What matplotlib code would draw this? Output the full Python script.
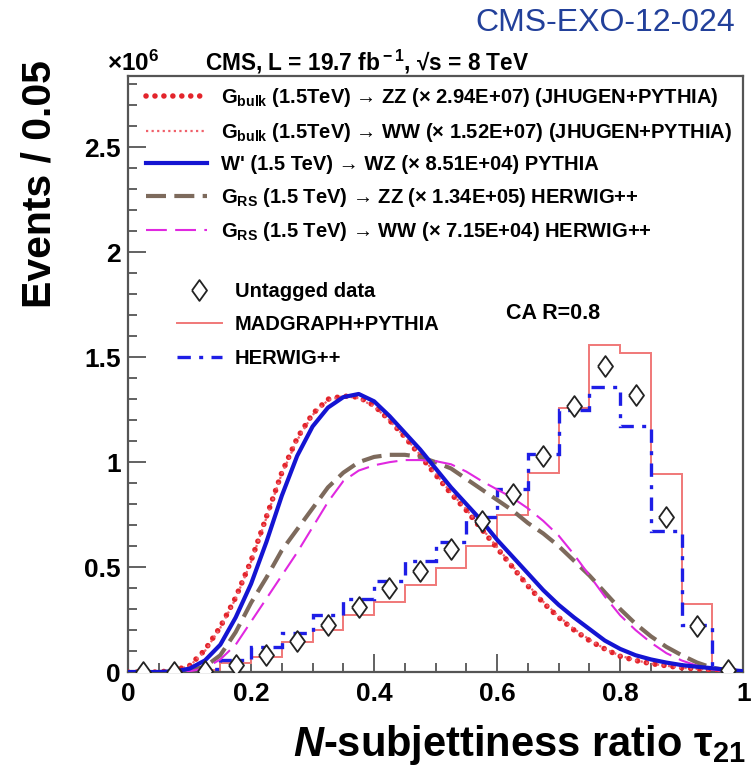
import numpy as np
import matplotlib
matplotlib.use('Agg')
import matplotlib.pyplot as plt
from matplotlib.lines import Line2D
from matplotlib.ticker import MultipleLocator, FuncFormatter

# Fonts: Helvetica-like bold, like ROOT plots
plt.rcParams['font.family'] = ['Liberation Sans', 'DejaVu Sans']
plt.rcParams['font.weight'] = 'bold'
plt.rcParams['mathtext.fontset'] = 'custom'
plt.rcParams['mathtext.rm'] = 'Liberation Sans:bold'
plt.rcParams['mathtext.bf'] = 'Liberation Sans:bold'
plt.rcParams['mathtext.it'] = 'Liberation Sans:bold:italic'

# Histogram bins (tau21, width 0.05)
bin_edges = np.round(np.arange(0, 1.0001, 0.05), 3)
bin_centers = bin_edges[:-1] + 0.025

# Values in units of 10^6
madgraph = [0, 0, 0.01, 0.043, 0.072, 0.143, 0.20, 0.27, 0.335, 0.415,
            0.495, 0.60, 0.75, 0.95, 1.26, 1.56, 1.52, 0.945, 0.324, 0.0]
herwig = [0, 0, 0.015, 0.057, 0.12, 0.187, 0.27, 0.35, 0.435, 0.53,
          0.62, 0.74, 0.873, 1.04, 1.25, 1.36, 1.17, 0.67, 0.224, 0.0]
data = [0.0, 0.0, 0.005, 0.033, 0.08, 0.148, 0.224, 0.31, 0.40, 0.48,
        0.585, 0.72, 0.85, 1.03, 1.27, 1.46, 1.32, 0.74, 0.22, 0.01]

# Signal shapes sampled every 0.025 in tau21
tau = np.round(np.arange(0, 1.0001, 0.025), 3)
gbulk_zz = [0, 0, 0, 0.008, 0.03, 0.105, 0.215, 0.355, 0.53, 0.74,
            0.95, 1.115, 1.23, 1.30, 1.315, 1.31, 1.27, 1.20, 1.12, 1.03,
            0.94, 0.85, 0.77, 0.68, 0.59, 0.50, 0.41, 0.33, 0.26, 0.20,
            0.15, 0.11, 0.075, 0.055, 0.04, 0.03, 0.02, 0.015, 0.01, 0.005, 0.002]
gbulk_ww = [0, 0, 0, 0.007, 0.028, 0.1, 0.21, 0.35, 0.525, 0.735,
            0.945, 1.105, 1.225, 1.295, 1.315, 1.305, 1.265, 1.20, 1.12, 1.035,
            0.945, 0.855, 0.775, 0.685, 0.595, 0.505, 0.415, 0.335, 0.265, 0.205,
            0.155, 0.11, 0.078, 0.056, 0.04, 0.03, 0.02, 0.015, 0.01, 0.005, 0.002]
wprime_wz = [0, 0, 0, 0.003, 0.016, 0.055, 0.13, 0.26, 0.42, 0.62,
             0.84, 1.03, 1.17, 1.26, 1.31, 1.325, 1.29, 1.22, 1.14, 1.06,
             0.97, 0.88, 0.80, 0.72, 0.63, 0.55, 0.47, 0.39, 0.32, 0.26,
             0.205, 0.15, 0.11, 0.08, 0.06, 0.045, 0.033, 0.025, 0.018, 0.01, 0.004]
grs_zz = [0, 0, 0, 0.002, 0.008, 0.025, 0.08, 0.19, 0.33, 0.45,
          0.58, 0.68, 0.78, 0.88, 0.95, 1.0, 1.025, 1.035, 1.035, 1.025,
          1.0, 0.97, 0.92, 0.87, 0.82, 0.77, 0.71, 0.66, 0.60, 0.53,
          0.46, 0.38, 0.30, 0.23, 0.17, 0.12, 0.08, 0.045, 0.02, 0.008, 0.002]
grs_ww = [0, 0, 0, 0.001, 0.004, 0.017, 0.06, 0.13, 0.24, 0.35,
          0.46, 0.57, 0.69, 0.81, 0.91, 0.96, 0.985, 1.0, 1.01, 1.01,
          1.005, 0.99, 0.955, 0.91, 0.87, 0.83, 0.78, 0.72, 0.65, 0.56,
          0.46, 0.36, 0.27, 0.2, 0.14, 0.09, 0.055, 0.03, 0.012, 0.004, 0.001]

fig = plt.figure(figsize=(7.53, 7.76), dpi=100)
ax = fig.add_axes([0.170, 0.134, 0.817, 0.768])

# Signal curves
l_zz, = ax.plot(tau, gbulk_zz, color='#e3242b', lw=4.0, linestyle=(0, (0.01, 1.6)),
                dash_capstyle='round', zorder=3,
                label=r'G$_{\rm bulk}$ (1.5TeV) → ZZ (× 2.94E+07) (JHUGEN+PYTHIA)')
l_ww, = ax.plot(tau, gbulk_ww, color='#f0606a', lw=1.6, linestyle=(0, (1, 1.5)),
                zorder=3,
                label=r'G$_{\rm bulk}$ (1.5TeV) → WW (× 1.52E+07) (JHUGEN+PYTHIA)')
l_wp, = ax.plot(tau, wprime_wz, color='#1414d2', lw=3.0, zorder=4,
                label="W' (1.5 TeV) → WZ (× 8.51E+04) PYTHIA")
l_rzz, = ax.plot(tau, grs_zz, color='#7d6a5c', lw=3.0, linestyle=(0, (4.8, 2.0)),
                 zorder=3,
                 label=r'G$_{\rm RS}$ (1.5 TeV) → ZZ (× 1.34E+05) HERWIG++')
l_rww, = ax.plot(tau, grs_ww, color='#e028e0', lw=1.5, linestyle=(0, (10, 4)),
                 zorder=3,
                 label=r'G$_{\rm RS}$ (1.5 TeV) → WW (× 7.15E+04) HERWIG++')

# Background histograms and data
mg_style = dict(color='#f07878', lw=1.4)
hw_style = dict(color='#1e1ee6', lw=2.4, linestyle=(0, (4, 2.5, 1.2, 2.5)))
ax.stairs(madgraph, bin_edges, zorder=2, **mg_style)
ax.stairs(herwig, bin_edges, zorder=2, **hw_style)
diamond = [(-0.72, 0), (0, 1), (0.72, 0), (0, -1), (-0.72, 0)]
p_data, = ax.plot(bin_centers, data, linestyle='none', marker=diamond, ms=15,
                  mfc='white', mec='#222222', mew=1.3, zorder=6)
mg_proxy = Line2D([], [], **mg_style)
hw_proxy = Line2D([], [], **hw_style)

ax.set_xlim(0, 1)
ax.set_ylim(0, 2.84)

frame_col = '#555555'
for s in ax.spines.values():
    s.set_color(frame_col)
    s.set_linewidth(1.6)

ax.xaxis.set_major_locator(MultipleLocator(0.2))
ax.xaxis.set_minor_locator(MultipleLocator(0.05))
ax.yaxis.set_major_locator(MultipleLocator(0.5))
ax.yaxis.set_minor_locator(MultipleLocator(0.1))
fmt = FuncFormatter(lambda v, p: f'{v:g}')
ax.xaxis.set_major_formatter(fmt)
ax.yaxis.set_major_formatter(fmt)
ax.tick_params(which='both', direction='in', color=frame_col, width=1.3,
               labelsize=19, top=False, right=False)
ax.tick_params(which='major', length=13)
ax.tick_params(which='minor', length=6.5)
ax.tick_params(axis='x', pad=7)
ax.tick_params(axis='y', pad=5)

# Legends
leg1 = ax.legend(handles=[l_zz, l_ww, l_wp, l_rzz, l_rww], loc='upper left',
                 bbox_to_anchor=(0.03, 0.983), frameon=False, fontsize=14.5,
                 handlelength=3.0, handletextpad=0.7, labelspacing=0.57,
                 borderpad=0, borderaxespad=0)
ax.add_artist(leg1)
leg2 = ax.legend(handles=[p_data, mg_proxy, hw_proxy],
                 labels=['Untagged data', 'MADGRAPH+PYTHIA', 'HERWIG++'],
                 loc='upper left', bbox_to_anchor=(0.08, 0.655), frameon=False,
                 fontsize=14.5, handlelength=2.2, handletextpad=0.65,
                 labelspacing=0.73, borderpad=0, borderaxespad=0)

ax.text(0.615, 0.602, 'CA R=0.8', transform=ax.transAxes, fontsize=15.5,
        ha='left', va='center')

# Header texts
fig.text(0.272, 0.920, r'CMS, L = 19.7 fb$^{\rm -1}$, √s = 8 TeV', fontsize=16.3,
         ha='left', va='center')
fig.text(0.142, 0.918, r'×10$^{\rm 6}$', fontsize=17.5, ha='left', va='center')
fig.text(0.976, 0.970, 'CMS-EXO-12-024', fontsize=23, fontweight='normal',
         color='#22409a', ha='right', va='center')

# Axis titles, ROOT style aligned to the ends
fig.text(0.053, 0.923, 'Events / 0.05', fontsize=29.5, rotation=90,
         ha='center', va='top')
fig.text(0.990, 0.040, r'$N$-subjettiness ratio τ$_{\rm 21}$', fontsize=30,
         ha='right', va='center')

fig.savefig('out.png', dpi=100)
